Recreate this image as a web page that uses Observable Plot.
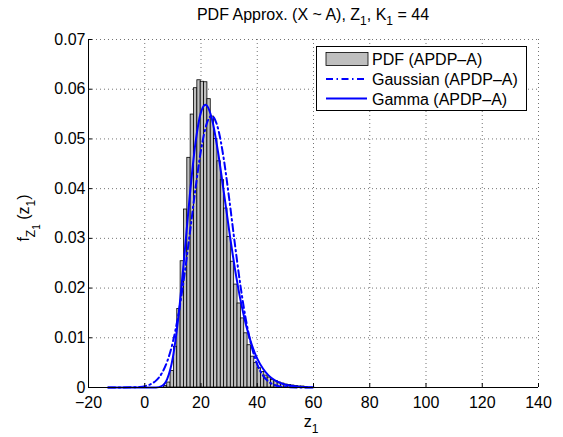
<!DOCTYPE html>
<html><head><meta charset="utf-8">
<script src="https://cdn.jsdelivr.net/npm/d3@7"></script>
<script src="https://cdn.jsdelivr.net/npm/@observablehq/plot@0.6"></script>
<style>
body{margin:0;background:#fff;}
svg{font-family:"Liberation Sans",Arial,Helvetica,sans-serif;}
</style>
</head><body><div id="chart"></div>
<script>
// ---- data ----
const xTicks = [-20, 0, 20, 40, 60, 80, 100, 120, 140];
const yTicks = [0, 0.01, 0.02, 0.03, 0.04, 0.05, 0.06, 0.07];

const binWidth = 1.19;
const binCenters = [7.40, 8.59, 9.78, 10.97, 12.16, 13.35, 14.54, 15.73, 16.92, 18.11,
  19.30, 20.49, 21.68, 22.87, 24.06, 25.25, 26.44, 27.63, 28.82, 30.01,
  31.20, 32.39, 33.58, 34.77, 35.96, 37.15, 38.34, 39.53, 40.72, 41.91,
  43.10, 44.29, 45.48, 46.67, 47.86, 49.05, 50.24, 51.43, 52.62, 53.81,
  55.00, 56.19, 57.38];
const pdfValues = [0.0003, 0.0010, 0.0033, 0.0082, 0.0158, 0.0254, 0.0358, 0.0462, 0.0549, 0.0602,
  0.0618, 0.0615, 0.0614, 0.0580, 0.0545, 0.0500, 0.0455, 0.0417, 0.0360, 0.0303,
  0.0253, 0.0207, 0.0169, 0.0139, 0.0109, 0.0085, 0.0062, 0.0049, 0.0039, 0.0031,
  0.0024, 0.0020, 0.0015, 0.0013, 0.0010, 0.0008, 0.0006, 0.0005, 0.0004, 0.0003,
  0.0002, 0.0002, 0.0001];

const gaussX = [-13, -8, -4, -2, 0, 2, 4, 6, 8, 10, 12, 14, 16, 18, 20, 22, 23.8, 26, 28, 30,
  32, 34, 36, 38, 40, 42, 44, 46, 48, 50, 54, 60];
const gaussY = [0, 0.00001, 0.00004, 0.00011, 0.00027, 0.00063, 0.00138, 0.0028, 0.00525, 0.00915,
  0.0148, 0.02219, 0.03088, 0.03986, 0.04773, 0.05302, 0.05465, 0.05222, 0.04632, 0.0381,
  0.02908, 0.02059, 0.01353, 0.00824, 0.00466, 0.00244, 0.00119, 0.00054, 0.00022, 0.00009,
  0.00001, 0];

const gammaX = [-13, -6, 0, 2, 4, 6, 8, 10, 12, 14, 16, 18, 20, 21.6, 24, 26, 28, 30, 32, 34,
  36, 38, 40, 42, 44, 46, 48, 50, 52, 54, 56, 58, 60];
const gammaY = [0, 0, 0, 0, 0.00001, 0.00027, 0.00173, 0.00607, 0.01438, 0.02598,
  0.03852, 0.04907, 0.05539, 0.0569, 0.05378, 0.04757, 0.03975, 0.03166, 0.02413, 0.01773,
  0.01258, 0.00867, 0.00582, 0.00381, 0.00244, 0.00154, 0.00095, 0.00057, 0.00034, 0.0002,
  0.00012, 0.00007, 0.00004];

const legendLabels = ["PDF (APDP\u2013A)", "Gaussian (APDP\u2013A)", "Gamma (APDP\u2013A)"];

// ---- tables ----
const bins = binCenters.map((c, i) => ({x1: c - binWidth / 2, x2: c + binWidth / 2, y: pdfValues[i]}));
const gauss = gaussX.map((x, i) => ({x, y: gaussY[i]}));
const gamma = gammaX.map((x, i) => ({x, y: gammaY[i]}));

const font = '"Liberation Sans",Arial,Helvetica,sans-serif';
const blue = "#0000ff";
const dashDot = "7,3.5,1.5,3.5";

const chart = Plot.plot({
  width: 563, height: 437,
  marginLeft: 88, marginRight: 25, marginTop: 39, marginBottom: 50,
  style: {fontFamily: font, fontSize: "16px", background: "#fff", color: "#000"},
  x: {domain: [-20, 140]},
  y: {domain: [0, 0.07]},
  marks: [
    Plot.gridX(xTicks, {stroke: "#000", strokeOpacity: 0.55, strokeDasharray: "1,3"}),
    Plot.gridY(yTicks, {stroke: "#000", strokeOpacity: 0.55, strokeDasharray: "1,3"}),
    Plot.rectY(bins, {x1: "x1", x2: "x2", y: "y", fill: "#bfbfbf", stroke: "#000", strokeWidth: 0.8}),
    Plot.line(gauss, {x: "x", y: "y", stroke: blue, strokeWidth: 2, strokeDasharray: dashDot, curve: "monotone-x"}),
    Plot.line(gamma, {x: "x", y: "y", stroke: blue, strokeWidth: 2, curve: "monotone-x"}),
    Plot.ruleX([-20], {stroke: "#000"}),
    Plot.ruleY([0], {stroke: "#000"}),
    Plot.ruleX(xTicks, {x: d => d, y1: 0, y2: 0.0008, stroke: "#000"}),
    Plot.ruleY(yTicks, {y: d => d, x1: -20, x2: -18.6, stroke: "#000"}),
    Plot.axisX({ticks: xTicks, tickSize: 0, tickPadding: 9.5, fontSize: 16, label: null,
      tickFormat: d => d < 0 ? "\u2212" + (-d) : String(d)}),
    Plot.axisY({ticks: yTicks, tickSize: 0, tickPadding: 3, fontSize: 16, label: null,
      tickFormat: d => d === 0 ? "0" : d.toFixed(2)})
  ]
});
document.getElementById("chart").appendChild(chart);

// ---- annotations (title, labels, legend) ----
const svg = d3.select(chart);

// title
const t = svg.append("text").attr("x", 313).attr("y", 19.5).attr("text-anchor", "middle")
  .attr("font-size", 16).attr("font-family", font).attr("fill", "#000");
t.append("tspan").text("PDF Approx. (X ~ A), Z");
t.append("tspan").attr("font-size", 12).attr("dy", 5).text("1");
t.append("tspan").attr("dy", -5).text(", K");
t.append("tspan").attr("font-size", 12).attr("dy", 5).text("1");
t.append("tspan").attr("dy", -5).text(" = 44");

// x label
const xl = svg.append("text").attr("x", 311).attr("y", 427).attr("text-anchor", "middle")
  .attr("font-size", 16).attr("font-family", font).attr("fill", "#000");
xl.append("tspan").text("z");
xl.append("tspan").attr("font-size", 12).attr("dy", 6).text("1");

// y label
const yl = svg.append("text").attr("transform", "translate(29,218) rotate(-90)")
  .attr("text-anchor", "middle").attr("font-size", 16).attr("font-family", font).attr("fill", "#000");
yl.append("tspan").text("f");
yl.append("tspan").attr("font-size", 12).attr("dy", 6).text("Z");
yl.append("tspan").attr("font-size", 10).attr("dy", 5).text("1");
yl.append("tspan").attr("dy", -11).text(" (z");
yl.append("tspan").attr("font-size", 12).attr("dy", 6).text("1");
yl.append("tspan").attr("dy", -6).text(")");

// legend
const lg = svg.append("g").attr("text-anchor", "start");
lg.append("rect").attr("x", 316.5).attr("y", 46.5).attr("width", 210).attr("height", 64)
  .attr("fill", "#fff").attr("stroke", "#000").attr("stroke-width", 1);
lg.append("rect").attr("x", 326).attr("y", 52.5).attr("width", 42).attr("height", 13)
  .attr("fill", "#bfbfbf").attr("stroke", "#000").attr("stroke-width", 0.8);
lg.append("line").attr("x1", 326).attr("x2", 367).attr("y1", 79).attr("y2", 79)
  .attr("stroke", blue).attr("stroke-width", 2).attr("stroke-dasharray", dashDot);
lg.append("line").attr("x1", 326).attr("x2", 367).attr("y1", 98.5).attr("y2", 98.5)
  .attr("stroke", blue).attr("stroke-width", 2);
[65, 85, 104.5].forEach((yy, i) => {
  lg.append("text").attr("x", 372).attr("y", yy).attr("font-size", 16).attr("text-anchor", "start")
    .attr("font-family", font).attr("fill", "#000").text(legendLabels[i]);
});
</script>
</body></html>
